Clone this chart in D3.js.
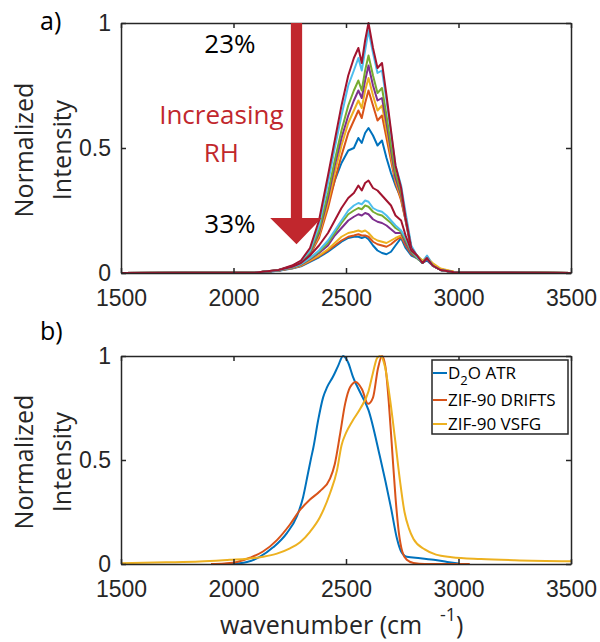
<!DOCTYPE html>
<html>
<head>
<meta charset="utf-8">
<script src="https://cdn.jsdelivr.net/npm/d3@7"></script>
<style>
  body { margin: 0; background: #fff; }
  svg { display: block; font-family: "Open Sans", sans-serif; }
  .axis text { font-size: 23px; fill: #262626; }
  .axis path, .axis line { stroke: #262626; stroke-width: 1.5; }
</style>
</head>
<body>
<div class="panel"></div>
<script>
// --- data ---
const xTicks = [1500, 2000, 2500, 3000, 3500];
const yTicks = [0, 0.5, 1];

// panel a: RH series, common wavenumber grid
const wnA = [1500, 2100, 2200, 2260, 2300, 2340, 2380, 2420, 2450, 2480, 2510, 2535, 2555, 2570, 2585, 2600,
             2620, 2640, 2660, 2680, 2700, 2720, 2745, 2765, 2790, 2815, 2840, 2860, 2885, 2920, 2980, 3500];

const blueHigh   = [0, 0.002, 0.009, 0.022, 0.036, 0.07, 0.15, 0.28, 0.37, 0.44, 0.49, 0.50, 0.54, 0.52, 0.56, 0.58, 0.55, 0.51, 0.53, 0.46, 0.40, 0.35, 0.30, 0.21, 0.09, 0.065, 0.04, 0.055, 0.03, 0.012, 0.003, 0];
const orangeHigh = [0, 0.002, 0.01, 0.024, 0.04, 0.075, 0.14, 0.26, 0.37, 0.47, 0.56, 0.61, 0.65, 0.62, 0.68, 0.73, 0.67, 0.61, 0.63, 0.54, 0.45, 0.36, 0.29, 0.21, 0.10, 0.07, 0.045, 0.06, 0.03, 0.013, 0.003, 0];
const yellowHigh = [0, 0.002, 0.01, 0.025, 0.042, 0.078, 0.15, 0.28, 0.40, 0.51, 0.60, 0.65, 0.69, 0.66, 0.73, 0.78, 0.71, 0.65, 0.67, 0.57, 0.47, 0.37, 0.30, 0.22, 0.10, 0.07, 0.05, 0.06, 0.035, 0.015, 0.004, 0];
const purpleHigh = [0, 0.002, 0.01, 0.026, 0.043, 0.08, 0.16, 0.30, 0.43, 0.54, 0.63, 0.69, 0.73, 0.70, 0.77, 0.83, 0.75, 0.69, 0.70, 0.60, 0.49, 0.38, 0.31, 0.22, 0.10, 0.065, 0.04, 0.06, 0.03, 0.012, 0.003, 0];
const greenHigh  = [0, 0.002, 0.011, 0.027, 0.045, 0.085, 0.17, 0.32, 0.45, 0.57, 0.67, 0.73, 0.77, 0.73, 0.81, 0.87, 0.79, 0.72, 0.74, 0.63, 0.51, 0.40, 0.32, 0.23, 0.10, 0.07, 0.045, 0.065, 0.03, 0.012, 0.003, 0];
const cyanHigh   = [0, 0.002, 0.011, 0.028, 0.048, 0.09, 0.19, 0.36, 0.50, 0.63, 0.75, 0.81, 0.86, 0.81, 0.89, 0.97, 0.88, 0.80, 0.81, 0.69, 0.56, 0.43, 0.35, 0.24, 0.11, 0.07, 0.045, 0.07, 0.035, 0.013, 0.003, 0];
const redHigh    = [0, 0.002, 0.012, 0.03, 0.05, 0.10, 0.21, 0.39, 0.53, 0.67, 0.79, 0.86, 0.90, 0.84, 0.93, 1.0, 0.90, 0.82, 0.84, 0.71, 0.57, 0.43, 0.34, 0.22, 0.10, 0.07, 0.04, 0.065, 0.03, 0.012, 0.003, 0];
const blueLow    = [0, 0.002, 0.009, 0.018, 0.027, 0.045, 0.063, 0.085, 0.105, 0.125, 0.14, 0.145, 0.145, 0.14, 0.145, 0.135, 0.11, 0.09, 0.08, 0.075, 0.085, 0.11, 0.14, 0.10, 0.07, 0.06, 0.04, 0.05, 0.03, 0.012, 0.003, 0];
const orangeLow  = [0, 0.002, 0.01, 0.019, 0.029, 0.048, 0.067, 0.09, 0.11, 0.13, 0.145, 0.15, 0.155, 0.15, 0.15, 0.145, 0.125, 0.115, 0.11, 0.105, 0.115, 0.13, 0.145, 0.11, 0.075, 0.06, 0.045, 0.055, 0.035, 0.015, 0.004, 0];
const yellowLow  = [0, 0.002, 0.01, 0.02, 0.03, 0.05, 0.07, 0.095, 0.12, 0.145, 0.16, 0.165, 0.17, 0.165, 0.17, 0.16, 0.14, 0.13, 0.125, 0.12, 0.13, 0.14, 0.15, 0.12, 0.08, 0.065, 0.05, 0.06, 0.04, 0.018, 0.005, 0];
const purpleLow  = [0, 0.002, 0.01, 0.021, 0.033, 0.055, 0.08, 0.11, 0.15, 0.18, 0.21, 0.225, 0.235, 0.23, 0.24, 0.235, 0.215, 0.205, 0.20, 0.19, 0.175, 0.16, 0.16, 0.12, 0.08, 0.06, 0.04, 0.055, 0.03, 0.012, 0.003, 0];
const greenLow   = [0, 0.002, 0.011, 0.022, 0.035, 0.058, 0.085, 0.12, 0.16, 0.20, 0.235, 0.25, 0.26, 0.255, 0.27, 0.265, 0.245, 0.235, 0.23, 0.215, 0.20, 0.18, 0.165, 0.13, 0.085, 0.06, 0.04, 0.06, 0.03, 0.012, 0.003, 0];
const cyanLow    = [0, 0.002, 0.011, 0.023, 0.036, 0.06, 0.09, 0.13, 0.17, 0.21, 0.25, 0.27, 0.28, 0.275, 0.29, 0.285, 0.26, 0.25, 0.245, 0.23, 0.21, 0.19, 0.17, 0.14, 0.09, 0.065, 0.04, 0.065, 0.03, 0.012, 0.003, 0];
const redLow     = [0, 0.002, 0.012, 0.025, 0.04, 0.07, 0.11, 0.16, 0.21, 0.26, 0.30, 0.32, 0.35, 0.33, 0.36, 0.37, 0.34, 0.33, 0.31, 0.29, 0.27, 0.23, 0.21, 0.15, 0.09, 0.07, 0.04, 0.06, 0.03, 0.012, 0.003, 0];

// panel b
const atrWn  = [1980, 2060, 2118, 2176, 2238, 2282, 2309, 2330, 2345, 2355, 2376, 2398, 2416, 2442, 2464, 2487, 2509, 2531, 2565, 2600, 2650, 2700, 2727, 2745, 2770, 2830, 2890, 2950, 3000];
const atrInt = [0, 0.01, 0.035, 0.08, 0.15, 0.23, 0.32, 0.43, 0.51, 0.56, 0.69, 0.80, 0.85, 0.90, 0.95, 1.0, 0.97, 0.90, 0.82, 0.74, 0.52, 0.27, 0.12, 0.06, 0.035, 0.028, 0.02, 0.01, 0.002];
const driftsWn  = [1900, 1960, 2016, 2073, 2131, 2193, 2251, 2296, 2340, 2384, 2429, 2450, 2473, 2496, 2518, 2544, 2571, 2598, 2620, 2642, 2660, 2675, 2690, 2705, 2720, 2735, 2750, 2770, 2800, 2850, 3050];
const driftsInt = [0, 0.003, 0.01, 0.03, 0.06, 0.115, 0.19, 0.26, 0.31, 0.35, 0.41, 0.48, 0.62, 0.77, 0.85, 0.875, 0.84, 0.77, 0.80, 0.94, 1.0, 0.95, 0.78, 0.55, 0.32, 0.15, 0.06, 0.02, 0.005, 0, 0];
const vsfgWn  = [1500, 1700, 1850, 1984, 2060, 2131, 2193, 2251, 2296, 2340, 2384, 2429, 2460, 2480, 2500, 2530, 2565, 2600, 2620, 2638, 2651, 2673, 2696, 2718, 2740, 2760, 2780, 2800, 2850, 2900, 2970, 3100, 3250, 3500];
const vsfgInt = [0.004, 0.008, 0.012, 0.02, 0.025, 0.035, 0.05, 0.075, 0.105, 0.155, 0.225, 0.34, 0.45, 0.57, 0.63, 0.69, 0.75, 0.83, 0.92, 0.99, 1.0, 0.95, 0.79, 0.60, 0.40, 0.25, 0.17, 0.12, 0.07, 0.045, 0.033, 0.024, 0.018, 0.013];

const legendLabels = ["D2O ATR", "ZIF-90 DRIFTS", "ZIF-90 VSFG"];

const blue = "#0072BD", orange = "#D95319", yellow = "#EDB120", purple = "#7E2F8E",
      green = "#77AC30", cyan = "#4DBEEE", darkRed = "#A2142F", arrowRed = "#C1272D";

const rhSeries = [
  [blueHigh, blue], [orangeHigh, orange], [yellowHigh, yellow], [purpleHigh, purple],
  [greenHigh, green], [cyanHigh, cyan], [redHigh, darkRed],
  [blueLow, blue], [orangeLow, orange], [yellowLow, yellow], [purpleLow, purple],
  [greenLow, green], [cyanLow, cyan], [redLow, darkRed]
];
const refSeries = [
  [atrWn, atrInt, blue], [driftsWn, driftsInt, orange], [vsfgWn, vsfgInt, yellow]
];

// --- layout ---
const width = 600;
const height = 642;
const left = 121, right = 571;

const svg = d3.select(".panel")
    .append("svg")
    .attr("width", width)
    .attr("height", height)
    .attr("viewBox", `0 0 ${width} ${height}`);

const x = d3.scaleLinear().domain([1500, 3500]).range([left, right]);
const yA = d3.scaleLinear().domain([0, 1]).range([273, 23]);
const yB = d3.scaleLinear().domain([0, 1]).range([564, 356]);

function drawAxes(y){
  const [y0, y1] = y.range();
  svg.append("g").attr("class", "axis")
     .attr("transform", `translate(0,${y0})`)
     .call(d3.axisBottom(x).tickValues(xTicks).tickSizeInner(-5).tickSizeOuter(0).tickPadding(17).tickFormat(d3.format("d")));
  svg.append("g").attr("class", "axis")
     .attr("transform", `translate(0,${y1})`)
     .call(d3.axisTop(x).tickValues(xTicks).tickSizeInner(-5).tickSizeOuter(0).tickFormat(""));
  svg.append("g").attr("class", "axis")
     .attr("transform", `translate(${left},0)`)
     .call(d3.axisLeft(y).tickValues(yTicks).tickSizeInner(-5).tickSizeOuter(0).tickPadding(10).tickFormat(d => d));
  svg.append("g").attr("class", "axis")
     .attr("transform", `translate(${right},0)`)
     .call(d3.axisRight(y).tickValues(yTicks).tickSizeInner(-5).tickSizeOuter(0).tickFormat(""));

  const mid = (y0 + y1) / 2 + 2;
  const title = svg.append("text")
     .attr("transform", `translate(33,${mid}) rotate(-90)`)
     .attr("text-anchor", "middle")
     .attr("font-size", 25)
     .attr("fill", "#262626");
  title.append("tspan").attr("x", 0).attr("dy", 0).text("Normalized");
  title.append("tspan").attr("x", 0).attr("dy", 38).text("Intensity");
}

// --- panel a ---
const lineA = d3.line().x((d, i) => x(wnA[i])).y(d => yA(d));
svg.append("g")
   .selectAll("path")
   .data(rhSeries)
   .enter()
   .append("path")
   .attr("d", d => lineA(d[0]))
   .attr("fill", "none")
   .attr("stroke", d => d[1])
   .attr("stroke-width", 2)
   .attr("stroke-linejoin", "round");

drawAxes(yA);

// arrow annotation (data units)
const arrowWn = 2280, shaftHalf = 25, headHalf = 117, headTop = 0.22, tip = 0.115;
svg.append("path")
   .attr("d", d3.line()([
      [x(arrowWn - shaftHalf), yA(1)], [x(arrowWn + shaftHalf), yA(1)],
      [x(arrowWn + shaftHalf), yA(headTop)], [x(arrowWn + headHalf - 5), yA(headTop)],
      [x(arrowWn), yA(tip)],
      [x(arrowWn - headHalf), yA(headTop)], [x(arrowWn - shaftHalf), yA(headTop)]
   ]) + "Z")
   .attr("fill", arrowRed);

svg.append("text").attr("x", x(1984)).attr("y", yA(0.88)).attr("text-anchor", "middle")
   .attr("font-size", 26).attr("fill", "#000").text("23%");
svg.append("text").attr("x", x(1984)).attr("y", yA(0.16)).attr("text-anchor", "middle")
   .attr("font-size", 26).attr("fill", "#000").text("33%");
svg.append("text").attr("x", x(1946)).attr("y", yA(0.595)).attr("text-anchor", "middle")
   .attr("font-size", 26).attr("fill", arrowRed).text("Increasing");
svg.append("text").attr("x", x(1946)).attr("y", yA(0.445)).attr("text-anchor", "middle")
   .attr("font-size", 26).attr("fill", arrowRed).text("RH");

svg.append("text").attr("x", 40).attr("y", 30).attr("font-size", 25).text("a)");

// --- panel b ---
svg.append("g")
   .selectAll("path")
   .data(refSeries)
   .enter()
   .append("path")
   .attr("d", d => d3.line().curve(d3.curveMonotoneX).x((v, i) => x(d[0][i])).y(v => yB(v))(d[1]))
   .attr("fill", "none")
   .attr("stroke", d => d[2])
   .attr("stroke-width", 2);

drawAxes(yB);

svg.append("text").attr("x", 40).attr("y", 340).attr("font-size", 25).text("b)");

// legend
const legend = svg.append("g").attr("transform", "translate(432,360)");
legend.append("rect")
   .attr("width", 136).attr("height", 74)
   .attr("fill", "#fff").attr("stroke", "#262626").attr("stroke-width", 1.5);
const rowY = [13, 40, 64];
legend.selectAll("line.item")
   .data(refSeries)
   .enter()
   .append("line")
   .attr("class", "item")
   .attr("x1", 1).attr("x2", 15)
   .attr("y1", (d, i) => rowY[i]).attr("y2", (d, i) => rowY[i])
   .attr("stroke", d => d[2]).attr("stroke-width", 2);
legend.selectAll("text.item")
   .data(legendLabels)
   .enter()
   .append("text")
   .attr("class", "item")
   .attr("x", 16)
   .attr("y", (d, i) => rowY[i] + 6)
   .attr("font-size", 17)
   .attr("fill", "#000")
   .each(function(d){
      const t = d3.select(this);
      if (d.startsWith("D2O")) {
        t.append("tspan").text("D");
        t.append("tspan").attr("dy", 6).attr("font-size", 13).text("2");
        t.append("tspan").attr("dy", -6).text("O ATR");
      } else {
        t.text(d);
      }
   });

// x label
svg.append("text").attr("x", 220).attr("y", 634).attr("font-size", 25).attr("fill", "#262626").text("wavenumber (cm");
svg.append("text").attr("x", 440).attr("y", 621).attr("font-size", 18).attr("fill", "#262626").text("-1");
svg.append("text").attr("x", 456).attr("y", 634).attr("font-size", 25).attr("fill", "#262626").text(")");
</script>
</body>
</html>
